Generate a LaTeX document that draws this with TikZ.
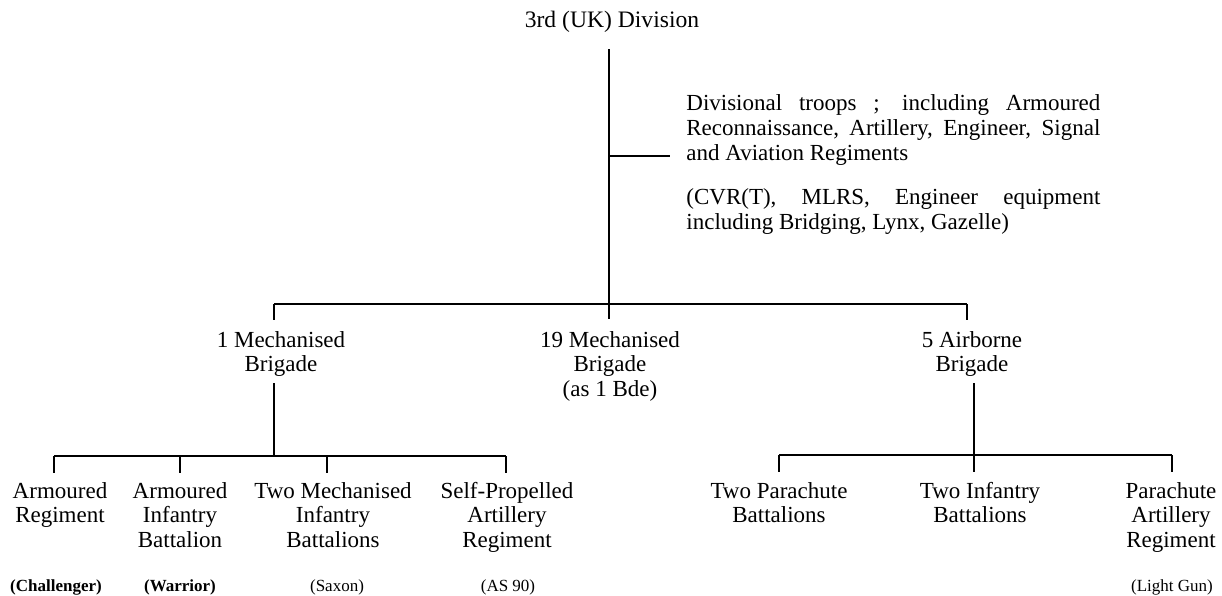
\documentclass[tikz,border=0pt]{standalone}
\usepackage{fontspec}
\setmainfont{Liberation Serif}
\begin{document}
\begin{tikzpicture}[x=0.5pt,y=-0.5pt,
  lbl/.style={anchor=base, inner sep=0pt, align=center,
              font=\fontsize{11.5}{12.25}\selectfont},
  note/.style={anchor=base, inner sep=0pt, font=\fontsize{8.5}{10}\selectfont},
  boldnote/.style={note, font=\fontsize{8.5}{10}\selectfont\bfseries},
  block/.style={anchor=base west, inner sep=0pt, text width=207pt, align=justify,
              font=\fontsize{11.5}{12.5}\selectfont},
  link/.style={line width=0.85pt}]
\useasboundingbox (0,0) rectangle (1222,595);

% --- headquarters and divisional troops
\node[lbl, font=\fontsize{11.8}{12.25}\selectfont] (hq) at (612,27) {3rd (UK) Division};
\node[block] (troops) at (686,110) {Divisional troops ; including Armoured\linebreak
  Reconnaissance, Artillery, Engineer, Signal\linebreak and Aviation Regiments};
\node[block] (equip) at (686,204) {(CVR(T), MLRS, Engineer equipment\linebreak
  including Bridging, Lynx, Gazelle)};

% --- brigades (a multi-line node sits on the baseline of its last line)
\node[lbl] (bde1)  at (281,371.5) {1 Mechanised\\Brigade};
\node[lbl] (bde19) at (610,396)   {19 Mechanised\\Brigade\\(as 1 Bde)};
\node[lbl] (bde5)  at (972,371.5) {5 Airborne\\Brigade};

% --- units of 1 Mechanised Brigade
\node[lbl] (armreg) at (60,522.5) {Armoured\\Regiment};
\node[lbl] (armbn)  at (180,547)  {Armoured\\Infantry\\Battalion};
\node[lbl] (mechbn) at (333,547)  {Two Mechanised\\Infantry\\Battalions};
\node[lbl] (spreg)  at (507,547)  {Self-Propelled\\Artillery\\Regiment};

% --- units of 5 Airborne Brigade
\node[lbl] (parabn) at (779,522.5) {Two Parachute\\Battalions};
\node[lbl] (infbn)  at (980,522.5) {Two Infantry\\Battalions};
\node[lbl] (parart) at (1171,547)  {Parachute\\Artillery\\Regiment};

% --- equipment notes
\node[boldnote] (n1) at (56,591)  {(Challenger)};
\node[boldnote] (n2) at (180,591) {(Warrior)};
\node[note] (n3) at (337,591)  {(Saxon)};
\node[note] (n4) at (508,591)  {(AS 90)};
\node[note] (n5) at (1172,591) {(Light Gun)};

% --- junction points of the tree
\coordinate (trunktop) at (609,49);
\coordinate (trunkbot) at (609,319);
\coordinate (branch)   at (670,156);
\coordinate (barL)     at (274,304);
\coordinate (barR)     at (967,304);
\coordinate (b1top)    at (274,383);
\coordinate (b1bar)    at (274,456);
\coordinate (b1L)      at (54,456);
\coordinate (b1R)      at (506,456);
\coordinate (b5top)    at (974,383);
\coordinate (b5bot)    at (974,472);
\coordinate (b5L)      at (779,455);
\coordinate (b5R)      at (1172,455);

% division level
\draw[link] (trunktop) -- (trunkbot);
\draw[link] (trunktop |- branch) -- (branch);
\draw[link] (barL) -- (barR);
\draw[link] (barL) -- ++(0,16);
\draw[link] (barR) -- ++(0,16);

% 1 Mechanised Brigade
\draw[link] (b1top) -- (b1bar);
\draw[link] (b1L) -- (b1R);
\draw[link] (b1L) -- ++(0,17);
\draw[link] (b1L -| armbn) -- ++(0,17);
\draw[link] (327,456) -- ++(0,17);
\draw[link] (b1R) -- ++(0,17);

% 5 Airborne Brigade
\draw[link] (b5top) -- (b5bot);
\draw[link] (b5L) -- (b5R);
\draw[link] (b5L) -- ++(0,17);
\draw[link] (b5R) -- ++(0,17);
\end{tikzpicture}
\end{document}
